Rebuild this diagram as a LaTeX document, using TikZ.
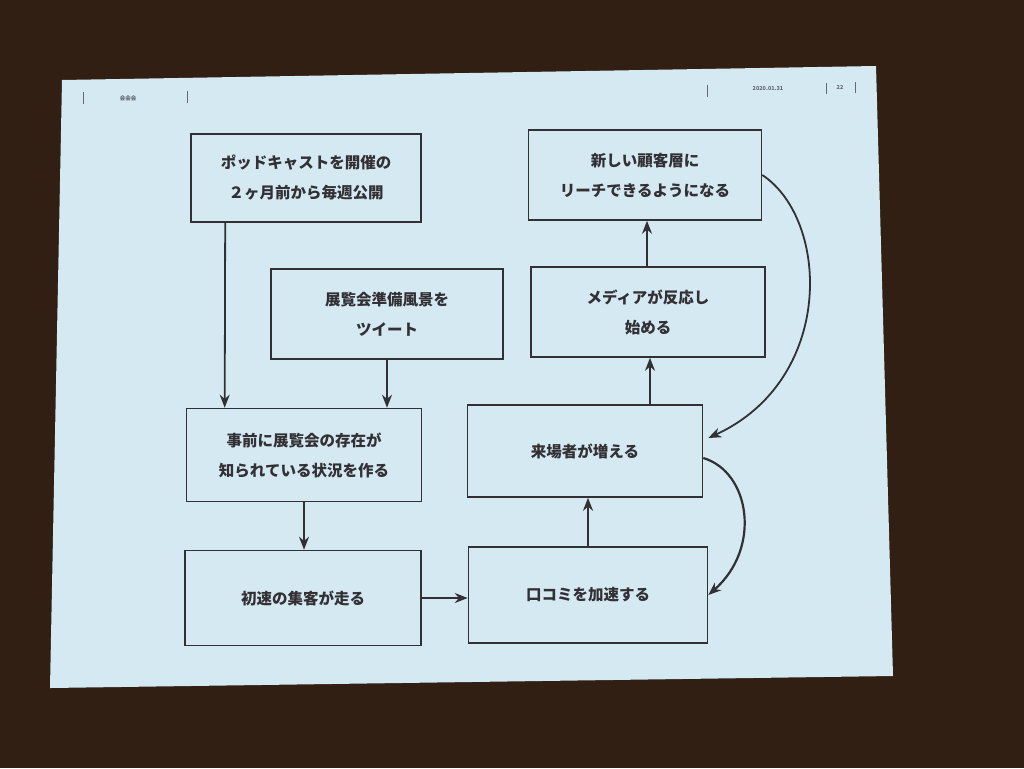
\documentclass[tikz,border=0pt]{standalone}
\usepackage{fontspec}
\usepackage{xcolor}
\usepackage{tikz}
\usetikzlibrary{
arrows.meta,
positioning,
calc
}
\newfontfamily\jpfont{Noto Sans CJK JP}
\definecolor{slideblue}{RGB}{212,233,242}
\definecolor{roomdark}{RGB}{48,31,18}
\definecolor{inkgray}{RGB}{50,48,52}
\definecolor{headgray}{RGB}{100,105,115}

\begin{document}
\begin{tikzpicture}[
  x=1pt, y=-1pt,
  >={Stealth[length=13pt, width=10pt]},
  box/.style={draw=inkgray, line width=1.6pt, minimum width=232pt, minimum height=90pt, inner sep=0pt, align=center, text=inkgray, font=\jpfont\bfseries\fontsize{15.5}{30}\selectfont},
  link/.style={->, draw=inkgray, line width=1.8pt},
  tick/.style={draw=headgray, line width=0.8pt},
  head/.style={text=headgray, font=\jpfont\bfseries\fontsize{5.5}{6}\selectfont, inner sep=0pt}
]
\useasboundingbox (0,0) rectangle (1024,768);

% Room and slide
\fill[roomdark] (0,0) rectangle (1024,768);
\fill[slideblue] (62,80) -- (876,66) -- (893,676) -- (50,688) -- cycle;

% Header
\draw[tick] (83,92) -- (83,104);
\draw[tick] (187,91) -- (187,103);
\draw[tick] (707,85) -- (707,97);
\draw[tick] (826,83) -- (826,94);
\draw[tick] (855,82) -- (855,93);
\node[head] (logo) at (128,98) {会会会};
\node[head] (date) at (768,89) {2020.01.31};
\node[head] (page) at (840,87) {22};

% Nodes
\node[box, minimum width=230pt, minimum height=88pt] (podcast) at (306,178) {ポッドキャストを開催の\\２ヶ月前から毎週公開};
\node[box] (tweet) at (387,314) {展覧会準備風景を\\ツイート};
\node[box, minimum width=235pt, minimum height=93pt] (aware) at (304,455) {事前に展覧会の存在が\\知られている状況を作る};
\node[box, minimum width=236pt, minimum height=95pt] (firstrush) at (303,598) {初速の集客が走る};
\node[box, minimum width=239pt, minimum height=96pt] (wom) at (588,595) {口コミを加速する};
\node[box, minimum width=235pt, minimum height=92pt] (visitors) at (585,451) {来場者が増える};
\node[box, minimum width=234pt] (media) at (648,312) {メディアが反応し\\始める};
\node[box, minimum width=233pt] (newcust) at (645,175) {新しい顧客層に\\リーチできるようになる};

% Edges
\draw[link] ([xshift=35pt]podcast.south west) -- ([xshift=39pt]aware.north west);
\draw[link] (tweet.south) -- (tweet.south |- aware.north);
\draw[link] (aware.south) -- (aware.south |- firstrush.north);
\draw[link] (firstrush.east) -- (firstrush.east -| wom.west);
\draw[link, line width=2.4pt] (wom.north) -- (wom.north |- visitors.south);
\draw[link] ([xshift=65pt]visitors.north) -- ([xshift=2pt]media.south);
\draw[link] ([xshift=-1pt]media.north) -- ([xshift=2pt]newcust.south);

% Feedback curves
\draw[link] (newcust.east) .. controls (830,220) and (835,380) .. ([xshift=5pt, yshift=13pt]visitors.east);
\draw[link, line width=2.2pt] ([yshift=-7pt]visitors.east) .. controls (750,472) and (762,548) .. (wom.east);

\end{tikzpicture}
\end{document}
